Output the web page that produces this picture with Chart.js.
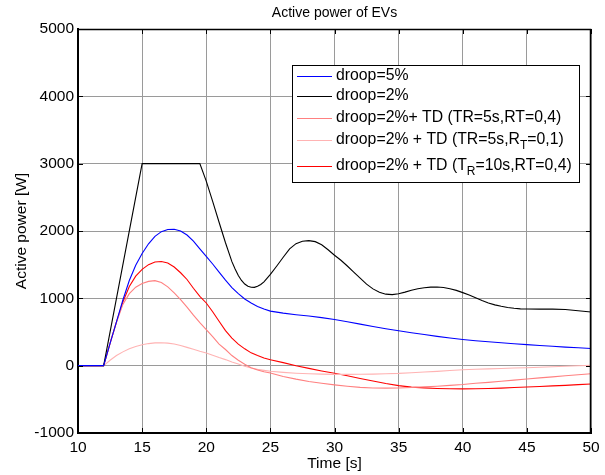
<!DOCTYPE html>
<html><head><meta charset="utf-8">
<script src="https://cdn.jsdelivr.net/npm/chart.js@4/dist/chart.umd.min.js"></script>
<style>html,body{margin:0;padding:0;background:#fff;} canvas{display:block;}</style>
</head><body>
<canvas id="c" width="605" height="475"></canvas>
<script>
const FONT = '"Liberation Sans", Arial, sans-serif';
const chartTitle = 'Active power of EVs';
const xTitle = 'Time [s]';
const yTitle = 'Active power [W]';

// Shared time base for the four droop/TD curves (s)
const timeA = [10, 12, 12.5, 13, 13.5, 14, 14.5, 15, 15.5, 16, 16.5, 17, 17.5, 18, 18.5, 19, 19.5, 20, 20.5, 21, 21.5, 22, 22.5, 23, 23.5, 24, 24.5, 25,
  26, 27, 28, 29, 30, 31, 32, 33, 34, 35, 36, 37, 38, 39, 40, 41, 42, 43, 44, 45, 46, 47, 48, 49, 50];

// droop=5% (W)
const droop5 = [0, 0, 330, 650, 975, 1265, 1490, 1665, 1810, 1920, 1990, 2022, 2025, 2000, 1940, 1850, 1735, 1623, 1510, 1390, 1270, 1160, 1070, 990, 930, 880, 840, 810,
  780, 757, 738, 714, 685, 652, 617, 582, 549, 518, 490, 462, 435, 410, 388, 370, 355, 340, 325, 312, 300, 288, 276, 265, 255];

// droop=2%+TD (TR=5s, RT=0,4)
const tdTR5RT04 = [0, 0, 330, 645, 910, 1070, 1165, 1220, 1252, 1263, 1235, 1170, 1080, 980, 870, 750, 640, 535, 430, 320, 240, 150, 80, 20, -30, -65, -90, -109,
  -160, -200, -235, -262, -285, -305, -322, -332, -334, -332, -325, -315, -305, -292, -280, -262, -248, -232, -215, -198, -182, -166, -150, -135, -119];

// droop=2%+TD (TR=5s, RT=0,1)
const tdTR5RT01 = [0, 0, 80, 150, 205, 250, 285, 310, 328, 338, 340, 335, 322, 300, 272, 245, 215, 188, 155, 120, 90, 55, 25, -10, -35, -55, -70, -84,
  -100, -112, -120, -126, -130, -130, -128, -125, -120, -115, -105, -95, -85, -72, -60, -53, -47, -41, -35, -30, -23, -16, -9, -2, 5];

// droop=2%+TD (TR=10s, RT=0,4)
const tdTR10RT04 = [0, 0, 330, 650, 945, 1175, 1330, 1430, 1500, 1540, 1548, 1525, 1465, 1380, 1280, 1150, 1030, 931, 800, 660, 520, 410, 320, 250, 190, 150, 115, 89,
  45, 0, -40, -78, -112, -150, -190, -228, -265, -297, -318, -330, -338, -343, -345, -342, -338, -333, -325, -317, -310, -300, -292, -282, -272];

// droop=2% (own time base)
const timeB = [10, 12, 15, 19.5, 20, 20.5, 21, 21.5, 22, 22.25, 22.5, 22.75, 23, 23.25, 23.5, 23.75, 24, 24.25, 24.5, 25, 25.5, 26, 26.5, 27, 27.5, 28, 28.5, 29, 29.5, 30, 30.5, 31, 31.5, 32, 32.5,
  33, 33.5, 34, 34.5, 35, 35.5, 36, 36.5, 37, 37.5, 38, 38.5, 39, 39.5, 40, 40.5, 41, 41.5, 42, 42.5, 43, 43.5, 44, 44.5, 45, 46, 47, 48, 49, 50];
const droop2 = [0, 0, 3000, 3000, 2740, 2440, 2130, 1825, 1545, 1435, 1340, 1265, 1212, 1180, 1165, 1163, 1178, 1205, 1245, 1355, 1480, 1610, 1735, 1812, 1848, 1857, 1842, 1795, 1722, 1640, 1565, 1480, 1390, 1300, 1210,
  1140, 1090, 1062, 1055, 1068, 1092, 1120, 1143, 1158, 1167, 1168, 1160, 1142, 1118, 1085, 1050, 1010, 968, 932, 903, 882, 864, 852, 844, 841, 840, 840, 834, 815, 797];

const seriesNames = ['droop=5%', 'droop=2%', 'droop=2%+ TD (TR=5s,RT=0,4)', 'droop=2% + TD (TR=5s,R_{T}=0,1)', 'droop=2% + TD (T_{R}=10s,RT=0,4)'];
const seriesColors = ['#0000ff', '#000000', '#ff8080', '#ffb3b3', '#ff0000'];
const xTicks = [10, 15, 20, 25, 30, 35, 40, 45, 50];
const yTicks = [-1000, 0, 1000, 2000, 3000, 4000, 5000];

function pts(t, v) { return t.map((x, i) => ({ x: x, y: v[i] })); }

const seriesData = [pts(timeA, droop5), pts(timeB, droop2), pts(timeA, tdTR5RT04), pts(timeA, tdTR5RT01), pts(timeA, tdTR10RT04)];

function drawRich(ctx, text, x, y, size) {
  const parts = text.split(/(_\{[^}]*\})/).filter(s => s.length);
  let cx = x;
  parts.forEach(p => {
    const m = p.match(/^_\{([^}]*)\}$/);
    if (m) {
      ctx.font = Math.round(size * 0.75) + 'px ' + FONT;
      ctx.fillText(m[1], cx, y + 6);
      cx += ctx.measureText(m[1]).width;
    } else {
      ctx.font = size + 'px ' + FONT;
      ctx.fillText(p, cx, y);
      cx += ctx.measureText(p).width;
    }
  });
}

const decor = {
  id: 'decor',
  afterDraw(chart) {
    const { ctx, chartArea: a, scales } = chart;
    const xs = scales.x, ys = scales.y;
    ctx.save();
    ctx.strokeStyle = '#000'; ctx.lineWidth = 1;
    ctx.beginPath();
    xTicks.forEach(v => {
      const px = Math.round(xs.getPixelForValue(v)) + 0.5;
      ctx.moveTo(px, a.bottom); ctx.lineTo(px, a.bottom - 5);
      ctx.moveTo(px, a.top); ctx.lineTo(px, a.top + 5);
    });
    yTicks.forEach(v => {
      const py = Math.round(ys.getPixelForValue(v)) + 0.5;
      ctx.moveTo(a.left, py); ctx.lineTo(a.left + 5, py);
      ctx.moveTo(a.right, py); ctx.lineTo(a.right - 5, py);
    });
    ctx.stroke();
    ctx.beginPath();
    ctx.lineWidth = 1.5;
    ctx.moveTo(a.left, a.top + 0.5); ctx.lineTo(a.right - 0.5, a.top + 0.5); ctx.lineTo(a.right - 0.5, a.bottom);
    ctx.stroke();
    ctx.fillStyle = '#000';
    ctx.font = '14px ' + FONT;
    ctx.textAlign = 'center'; ctx.textBaseline = 'middle';
    ctx.fillText(chartTitle, (a.left + a.right) / 2, 13);
    const lx = 292, ly = 65, lw = 287, lh = 117;
    ctx.fillStyle = '#fff';
    ctx.fillRect(lx, ly, lw, lh);
    ctx.strokeStyle = '#000'; ctx.lineWidth = 1;
    ctx.strokeRect(lx + 0.5, ly + 0.5, lw, lh);
    const rows = [76, 96, 118, 140, 166];
    ctx.textAlign = 'left'; ctx.textBaseline = 'middle';
    seriesNames.forEach((name, i) => {
      const yy = rows[i];
      ctx.strokeStyle = seriesColors[i]; ctx.lineWidth = 1;
      ctx.beginPath(); ctx.moveTo(297, yy + 0.5); ctx.lineTo(332, yy + 0.5); ctx.stroke();
      ctx.fillStyle = '#000';
      drawRich(ctx, name, 336, yy, 15.8);
    });
    ctx.restore();
  }
};

new Chart(document.getElementById('c'), {
  type: 'line',
  data: {
    datasets: seriesNames.map((n, i) => ({
      label: n.replace(/_\{([^}]*)\}/g, '$1'),
      data: seriesData[i],
      borderColor: seriesColors[i],
      borderWidth: 1.1,
      pointRadius: 0,
      tension: 0,
      fill: false
    }))
  },
  options: {
    responsive: false,
    animation: false,
    layout: { padding: { top: 29, right: 14, left: 0, bottom: 0 } },
    plugins: { legend: { display: false }, title: { display: false }, tooltip: { enabled: false } },
    scales: {
      x: {
        type: 'linear', min: 10, max: 50,
        afterFit(s) { s.height = 42; },
        afterBuildTicks(s) { s.ticks = xTicks.map(v => ({ value: v })); },
        ticks: { color: '#000', font: { size: 15.5, family: FONT }, padding: 5, maxRotation: 0, callback: v => String(v) },
        grid: { color: '#9a9a9a', lineWidth: 1, drawTicks: false },
        border: { color: '#000', width: 2 },
        title: { display: true, text: xTitle, color: '#000', font: { size: 15.5, family: FONT }, padding: { top: 0, bottom: 2 } }
      },
      y: {
        type: 'linear', min: -1000, max: 5000,
        afterFit(s) { s.width = 78; },
        afterBuildTicks(s) { s.ticks = yTicks.map(v => ({ value: v })); },
        ticks: { color: '#000', font: { size: 15.5, family: FONT }, padding: 4, callback: v => String(v) },
        grid: { color: '#9a9a9a', lineWidth: 1, drawTicks: false },
        border: { color: '#000', width: 2 },
        title: { display: true, text: yTitle, color: '#000', font: { size: 15.5, family: FONT }, padding: { top: 12, bottom: 0 } }
      }
    }
  },
  plugins: [decor]
});
</script>
</body></html>
